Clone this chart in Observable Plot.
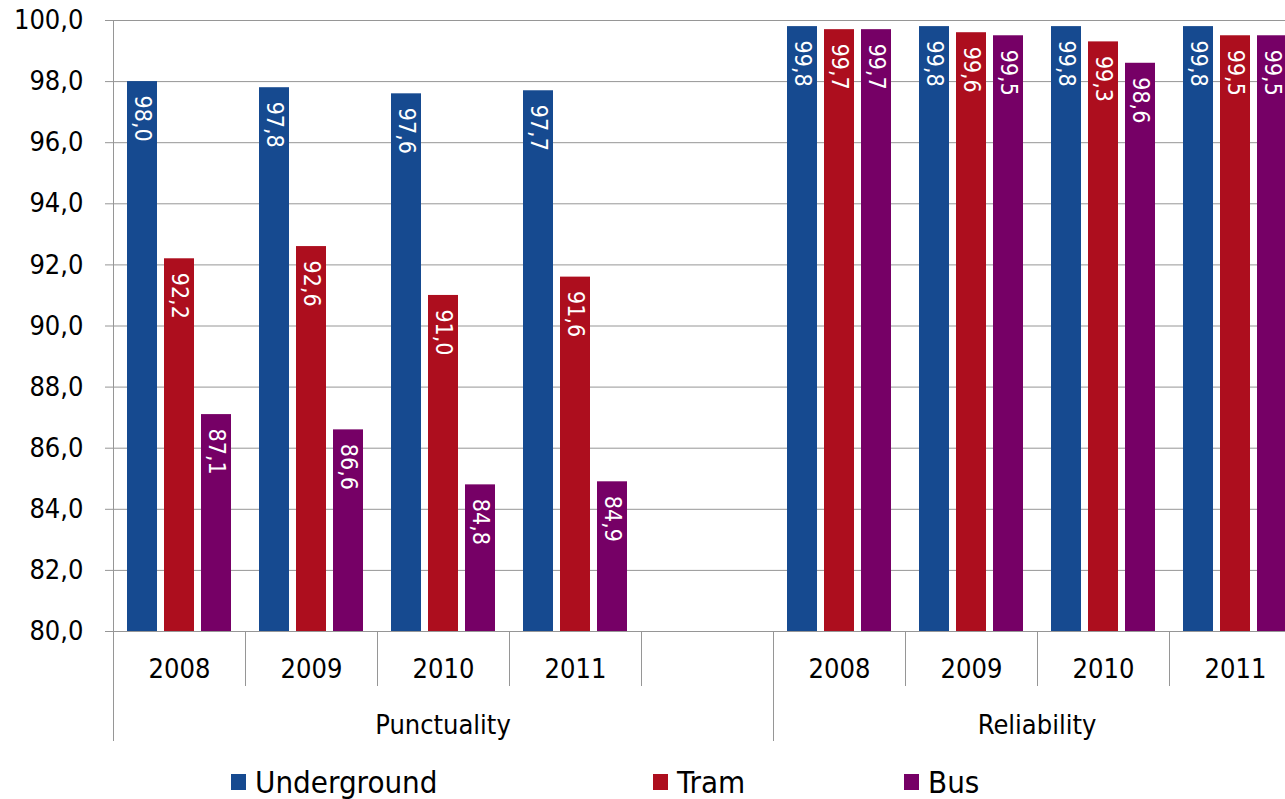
<!DOCTYPE html>
<html><head><meta charset="utf-8">
<script src="https://cdn.jsdelivr.net/npm/d3@7"></script>
<script src="https://cdn.jsdelivr.net/npm/@observablehq/plot@0.6"></script>
<style>
html,body{margin:0;padding:0;background:#fff;overflow:hidden;width:1285px;height:799px}
body{font-family:"DejaVu Sans Condensed","DejaVu Sans",sans-serif}
#legend{position:relative;height:49px;width:1285px}
.item{position:absolute;top:14px;display:flex;align-items:center;font-size:31px;color:#000;line-height:36px}
.sw{width:15px;height:16px;margin-right:9px}
</style></head><body><div id="chart"></div><div id="legend"></div>
<script>
const years = ["2008", "2009", "2010", "2011"];
const groups = ["Punctuality", "Reliability"];
const modes = ["Underground", "Tram", "Bus"];
const modeColors = ["#164A90", "#AD0E1E", "#760066"];
const punctualityUnderground = [98.0, 97.8, 97.6, 97.7];
const punctualityTram = [92.2, 92.6, 91.0, 91.6];
const punctualityBus = [87.1, 86.6, 84.8, 84.9];
const reliabilityUnderground = [99.8, 99.8, 99.8, 99.8];
const reliabilityTram = [99.7, 99.6, 99.3, 99.5];
const reliabilityBus = [99.7, 99.5, 98.6, 99.5];
const yTicks = [80, 82, 84, 86, 88, 90, 92, 94, 96, 98, 100];
const legendLeft = [231, 653, 904];

const series = {
  Punctuality: {Underground: punctualityUnderground, Tram: punctualityTram, Bus: punctualityBus},
  Reliability: {Underground: reliabilityUnderground, Tram: reliabilityTram, Bus: reliabilityBus}
};
// slots: Punctuality years + one empty slot, then Reliability years
const slots = [
  ...years.map(y => groups[0] + " " + y), groups[0] + " ",
  ...years.map(y => groups[1] + " " + y)
];
const data = [];
for (const g of groups) for (const m of modes) years.forEach((y, i) => {
  data.push({slot: g + " " + y, group: g, year: y, mode: m, value: series[g][m][i]});
});
// gridlines per slot (so that the empty slot also shows them)
const grid = slots.flatMap(s => yTicks.map(t => ({slot: s, tick: t})));
const fmt = v => v.toFixed(1).replace(".", ",");
const gray = "#969696";
const font = '"DejaVu Sans Condensed","DejaVu Sans",sans-serif';

const plot = Plot.plot({
  width: 1310, height: 750,
  marginTop: 20, marginBottom: 119, marginLeft: 110, marginRight: 7,
  style: {fontFamily: font, fontSize: "27px", color: "#000", maxWidth: "none", background: "#fff"},
  fx: {domain: slots, padding: 0, label: null, axis: null},
  x: {domain: modes, paddingInner: 0.18, paddingOuter: 0.33, axis: null},
  y: {domain: [yTicks[0], yTicks[yTicks.length - 1]], label: null, axis: null},
  color: {domain: modes, range: modeColors},
  marks: [
    Plot.ruleY(grid, {fx: "slot", y: "tick", stroke: gray, strokeOpacity: 1}),
    Plot.axisY(yTicks, {facetAnchor: "left", tickSize: 8, tickPadding: 22, stroke: gray, tickFormat: fmt, fontSize: 27, fill: "#000"}),
    Plot.axisFx({anchor: "bottom", tickSize: 0, tickPadding: 27, fontSize: 27, fill: "#000",
      tickFormat: s => s.split(" ")[1] || ""}),
    Plot.barY(data, {fx: "slot", x: "mode", y1: yTicks[0], y2: "value", fill: "mode"}),
    Plot.text(data, {fx: "slot", x: "mode", y: "value", text: d => fmt(d.value), rotate: 90,
      textAnchor: "start", lineAnchor: "middle", dy: 14, fill: "white", fontSize: 23})
  ]
});
document.getElementById("chart").appendChild(plot);

// category separators and group labels, positioned with Plot's own fx / y scales
const fxs = plot.scale("fx"), ys = plot.scale("y");
const bw = fxs.bandwidth;
const yBase = ys.apply(yTicks[0]), yTop = ys.apply(yTicks[yTicks.length - 1]);
const svg = d3.select(plot);
const gsep = svg.append("g").attr("stroke", gray).attr("stroke-width", 1);
const groupStarts = [0, years.length + 1];
const edges = slots.map(s => fxs.apply(s)).concat([fxs.apply(slots[slots.length - 1]) + bw]);
edges.forEach((x, i) => {
  const long = groupStarts.includes(i) || i === edges.length - 1;
  gsep.append("line").attr("x1", x + 0.5).attr("x2", x + 0.5)
    .attr("y1", i === 0 ? yTop : yBase).attr("y2", yBase + (long ? 110 : 55));
});
const groupRanges = [[0, years.length], [years.length + 1, slots.length - 1]];
groups.forEach((g, gi) => {
  const [a, b] = groupRanges[gi];
  const cx = (fxs.apply(slots[a]) + fxs.apply(slots[b]) + bw) / 2;
  svg.append("text").attr("x", cx).attr("y", yBase + 103)
    .attr("text-anchor", "middle").attr("font-size", 27).attr("fill", "#000")
    .attr("font-family", font).text(g);
});

// legend
const leg = document.getElementById("legend");
modes.forEach((m, i) => {
  const it = document.createElement("div");
  it.className = "item";
  it.style.left = legendLeft[i] + "px";
  const sw = document.createElement("span");
  sw.className = "sw"; sw.style.background = modeColors[i];
  const t = document.createElement("span"); t.textContent = m;
  it.appendChild(sw); it.appendChild(t); leg.appendChild(it);
});
</script></body></html>
